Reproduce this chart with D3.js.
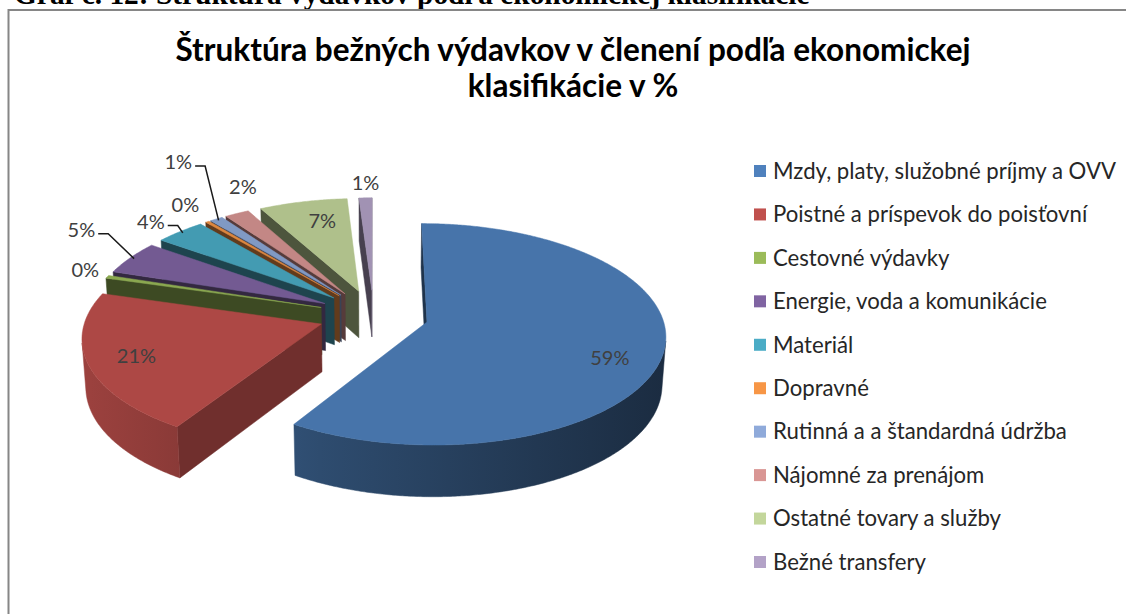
<!DOCTYPE html>
<html>
<head>
<meta charset="utf-8">
<script src="https://cdnjs.cloudflare.com/ajax/libs/d3/7.8.5/d3.min.js"></script>
<style>
  html, body { margin: 0; padding: 0; background: #fff; overflow: hidden; }
  svg { display: block; }
</style>
</head>
<body>
<svg id="chart" width="1126" height="614"></svg>
<script>
// --- data ---
const categories = [
  "Mzdy, platy, služobné príjmy a OVV",
  "Poistné a príspevok do poisťovní",
  "Cestovné výdavky",
  "Energie, voda a komunikácie",
  "Materiál",
  "Dopravné",
  "Rutinná a a štandardná údržba",
  "Nájomné za prenájom",
  "Ostatné tovary a služby",
  "Bežné transfery"
];
const values = [58.9, 20.7, 0.45, 5.0, 3.9, 0.3, 1.0, 1.9, 6.85, 1.0];
const colors = ["#4F81BD", "#C0504D", "#9BBB59", "#8064A2", "#4BACC6",
                "#F79646", "#8FAADA", "#D99694", "#C3D69B", "#B3A2C7"];
const titleLines = ["Štruktúra bežných výdavkov v členení podľa ekonomickej", "klasifikácie v %"];
const caption = "Graf č. 12: Štruktúra výdavkov podľa ekonomickej klasifikácie";

// label placement (Excel had these moved by hand): inside labels sit on the top face
const labelInside = [0.8, 0.8, null, null, null, null, null, null, 0.8, null];
const labelNudge = [[-5, 11], [0, 0], [-22, -7], [-49, -28], [-29, -10],
                    [-22, -17], [-38, -57], [6, -26], [9, 3], [0, -15]];
const labelLeader = [false, false, false, true, true, false, true, false, false, false];

const svg = d3.select("#chart");
const defs = svg.append("defs");

// caption of the document, cut off by the top edge
svg.append("text")
  .attr("x", 14).attr("y", 4)
  .attr("font-family", "'Liberation Serif', 'Times New Roman', serif")
  .attr("font-weight", "bold")
  .attr("font-size", 25)
  .attr("fill", "#000")
  .text(caption)
  .call(fitWidth, 796);

// chart frame
svg.append("rect")
  .attr("x", 8.5).attr("y", 10)
  .attr("width", 1200).attr("height", 700)
  .attr("fill", "none")
  .attr("stroke", "#868686")
  .attr("stroke-width", 2);

// title
const title = svg.append("g")
  .attr("font-family", "Lato, 'Open Sans', sans-serif")
  .attr("font-weight", "bold")
  .attr("fill", "#000")
  .attr("text-anchor", "middle");
const t1 = title.append("text").attr("x", 573).attr("y", 61).attr("font-size", 28).text(titleLines[0]);
const titleSize = fitWidth(t1, 795);
title.append("text").attr("x", 573).attr("y", 97).attr("font-size", titleSize).text(titleLines[1]);

// --- 3D pie geometry (simple perspective camera) ---
const view = { cx: 373.5, cy: 315, f: 1899, D: 8.08, tilt: 27.3 * Math.PI / 180, h: 0.23, explode: 0.235 };
const sinT = Math.sin(view.tilt), cosT = Math.cos(view.tilt);

function project(X, Z, H) {
  const yc = H * cosT + Z * sinT;
  const zc = view.D + Z * cosT - H * sinT;
  return [view.cx + view.f * X / zc, view.cy - view.f * yc / zc];
}

function midAngle(s) { return (s.startAngle + s.endAngle) / 2; }

function point(s, theta, r, H) {
  const m = midAngle(s);
  const ox = view.explode * Math.sin(m), oz = view.explode * Math.cos(m);
  return project(ox + r * Math.sin(theta), oz + r * Math.cos(theta), H);
}

function signedArea(poly) {
  let a = 0;
  for (let i = 0; i < poly.length; i++) {
    const p = poly[i], q = poly[(i + 1) % poly.length];
    a += p[0] * q[1] - q[0] * p[1];
  }
  return a / 2;
}

const slices = d3.pie().sort(null).value(d => d)(values);
slices.forEach((s, i) => { s.index = i; });

const line = d3.line();
const pieG = svg.append("g");

// gradients for the curved side walls
colors.forEach((c, i) => {
  const g = defs.append("linearGradient")
    .attr("id", "side" + i)
    .attr("gradientUnits", "userSpaceOnUse")
    .attr("x1", 90).attr("x2", 665).attr("y1", 0).attr("y2", 0);
  g.append("stop").attr("offset", 0).attr("stop-color", d3.color(c).darker(0.6));
  g.append("stop").attr("offset", 0.4).attr("stop-color", d3.color(c).darker(1.5));
  g.append("stop").attr("offset", 1).attr("stop-color", d3.color(c).darker(3.0));
});

// back slices first
const order = slices.slice().sort((a, b) => {
  const za = (view.explode + 0.5) * Math.cos(midAngle(a));
  const zb = (view.explode + 0.5) * Math.cos(midAngle(b));
  return zb - za;
});

const H0 = 0, H1 = -view.h;

order.forEach(s => {
  const i = s.index;
  const a0 = s.startAngle, a1 = s.endAngle;
  const steps = Math.max(2, Math.ceil((a1 - a0) / (Math.PI / 360)));
  const ts = d3.range(steps + 1).map(k => a0 + (a1 - a0) * k / steps);
  const g = pieG.append("g");

  // radial walls
  const apexT = point(s, 0, 0, H0), apexB = point(s, 0, 0, H1);
  const walls = [
    { poly: [apexT, point(s, a0, 1, H0), point(s, a0, 1, H1), apexB], psi: a0 * 180 / Math.PI - 90 },
    { poly: [point(s, a1, 1, H0), apexT, apexB, point(s, a1, 1, H1)], psi: a1 * 180 / Math.PI + 90 }
  ];
  walls.forEach(w => {
    if (signedArea(w.poly) >= 0) return;
    const psi = ((w.psi % 360) + 360) % 360;
    const c = d3.color(colors[i]).darker(psi < 180 ? 1.5 : 2.6);
    g.append("path")
      .attr("d", line(w.poly) + "Z")
      .attr("fill", c)
      .attr("stroke", c)
      .attr("stroke-width", 0.5);
  });

  // outer curved wall, only the parts facing the viewer
  let run = [];
  const runs = [];
  for (let k = 0; k < steps; k++) {
    const q = [point(s, ts[k], 1, H0), point(s, ts[k + 1], 1, H0),
               point(s, ts[k + 1], 1, H1), point(s, ts[k], 1, H1)];
    if (signedArea(q) < 0) {
      if (!run.length) run.push(ts[k]);
      run.push(ts[k + 1]);
    } else if (run.length) { runs.push(run); run = []; }
  }
  if (run.length) runs.push(run);
  runs.forEach(r => {
    const pts = r.map(t => point(s, t, 1, H0)).concat(r.slice().reverse().map(t => point(s, t, 1, H1)));
    g.append("path")
      .attr("d", line(pts) + "Z")
      .attr("fill", "url(#side" + i + ")")
      .attr("stroke", "url(#side" + i + ")")
      .attr("stroke-width", 0.5);
  });

  // top face
  const top = [apexT].concat(ts.map(t => point(s, t, 1, H0)));
  const tc = d3.color(colors[i]).darker(0.3);
  g.append("path")
    .attr("d", line(top) + "Z")
    .attr("fill", tc)
    .attr("stroke", tc)
    .attr("stroke-width", 0.5);
});

// --- data labels ---
const total = d3.sum(values);
const labelG = svg.append("g")
  .attr("font-family", "Lato, 'Open Sans', sans-serif")
  .attr("font-size", 20)
  .attr("fill", "#404040")
  .attr("text-anchor", "middle");

slices.forEach((s, i) => {
  const m = midAngle(s);
  const base = labelInside[i] != null ? point(s, m, labelInside[i], H0) : point(s, m, 1, H0);
  const lx = base[0] + labelNudge[i][0], ly = base[1] + labelNudge[i][1];
  const txt = labelG.append("text")
    .attr("x", lx).attr("y", ly).attr("dy", "0.35em")
    .text(Math.round(values[i] / total * 100) + "%");
  if (labelLeader[i]) {
    const w = txt.node().getComputedTextLength();
    const edge = point(s, m, 0.98, H0);
    const pts = [[lx + w / 2 + 3, ly + 4], [lx + w / 2 + 13, ly + 4], edge];
    svg.append("path")
      .attr("d", line(pts))
      .attr("fill", "none")
      .attr("stroke", "#1a1a1a")
      .attr("stroke-width", 1.5);
  }
});

// --- legend ---
const legend = svg.append("g")
  .attr("font-family", "Lato, 'Open Sans', sans-serif")
  .attr("fill", "#262626");
const rowY = d3.scalePoint().domain(categories).range([171, 562]);
const items = legend.selectAll("g").data(categories).join("g")
  .attr("transform", d => `translate(754,${rowY(d)})`);
items.append("rect")
  .attr("x", 0).attr("y", -6).attr("width", 12).attr("height", 12)
  .attr("fill", (d, i) => colors[i]);
const legendText = items.append("text")
  .attr("x", 19).attr("dy", "0.35em")
  .attr("font-size", 18)
  .text(d => d);
const legendSize = fitWidth(d3.select(legendText.nodes()[0]), 343);
legendText.attr("font-size", legendSize);

function fitWidth(sel, target) {
  const w = sel.node().getComputedTextLength();
  const fs = parseFloat(sel.attr("font-size")) * target / w;
  sel.attr("font-size", fs);
  return fs;
}
</script>
</body>
</html>
